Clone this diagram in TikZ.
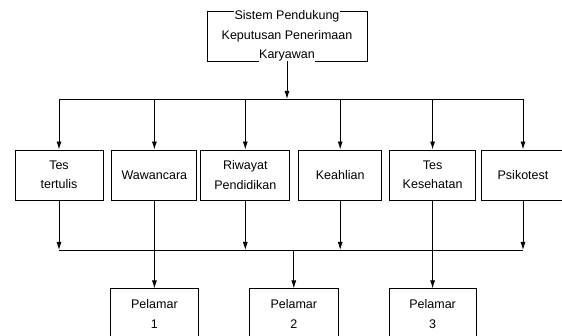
\documentclass[tikz,border=0pt]{standalone}
\usepackage{fontspec}
\setmainfont{Liberation Sans}
\usetikzlibrary{positioning, arrows.meta}

\tikzstyle{sistem} = [rectangle, minimum width=160, minimum height=50, draw=black, line width=0.9pt, inner sep=0pt]
\tikzstyle{kriteria} = [rectangle, minimum height=50, text centered, align=center, draw=black, line width=0.9pt, inner sep=0pt]
\tikzstyle{pelamar} = [rectangle, minimum height=50, text centered, align=center, draw=black, line width=0.9pt, inner sep=0pt]
\tikzstyle{arrow} = [line width=0.9pt, -{Latex[length=8pt,width=5pt]}]
\tikzstyle{garis} = [line width=0.9pt]

\newcommand{\latarputih}[1]{{\setlength{\fboxsep}{0.5pt}\colorbox{white}{#1}}}

\begin{document}
\begin{tikzpicture}[x=1pt, y=-1pt, node distance=8pt,
  every node/.style={font=\fontsize{12.5}{19.5}\selectfont}]

\path[use as bounding box, clip] (0,0) rectangle (562,336);

% Top
\node (spk) [sistem, label={[align=center, inner sep=0pt]center:\latarputih{Sistem Pendukung}\\\latarputih{Keputusan Penerimaan}\\\latarputih{Karyawan}}] at (287,36) {};

% Criteria
\node (tes) [kriteria, minimum width=88] at (59,175) {Tes\\tertulis};
\node (waw) [kriteria, minimum width=85, right=8pt of tes] {Wawancara};
\node (riw) [kriteria, minimum width=89, right=3pt of waw] {Riwayat\\Pendidikan};
\node (keah) [kriteria, minimum width=83, right=8pt of riw] {Keahlian};
\node (kes) [kriteria, minimum width=86, right=7pt of keah] {Tes\\Kesehatan};
\node (psi) [kriteria, minimum width=83, right=5pt of kes] {Psikotest};

% Applicants
\node (p1) [pelamar, minimum width=88, below=88pt of waw] {Pelamar\\1};
\node (p2) [pelamar, minimum width=89, right=50pt of p1] {Pelamar\\2};
\node (p3) [pelamar, minimum width=87, below=88pt of kes] {Pelamar\\3};

\coordinate (bus1) at (0,99);
\coordinate (bus2) at (0,250);

% Arrows
\draw [arrow] (spk) -- (spk |- bus1);
\draw [garis] (tes |- bus1) -- (psi |- bus1);
\draw [arrow] (tes |- bus1) -- (tes);
\draw [arrow] (waw |- bus1) -- (waw);
\draw [arrow] (riw |- bus1) -- (riw);
\draw [arrow] (keah |- bus1) -- (keah);
\draw [arrow] (kes |- bus1) -- (kes);
\draw [arrow] (psi |- bus1) -- (psi);

\draw [arrow] (tes) -- (tes |- bus2);
\draw [arrow] (riw) -- (riw |- bus2);
\draw [arrow] (keah) -- (keah |- bus2);
\draw [arrow] (psi) -- (psi |- bus2);
\draw [garis] (tes |- bus2) -- (psi |- bus2);
\draw [arrow] (waw) -- (p1);
\draw [arrow] (kes) -- (p3);
\draw [arrow] (p2 |- bus2) -- (p2);

\end{tikzpicture}
\end{document}
